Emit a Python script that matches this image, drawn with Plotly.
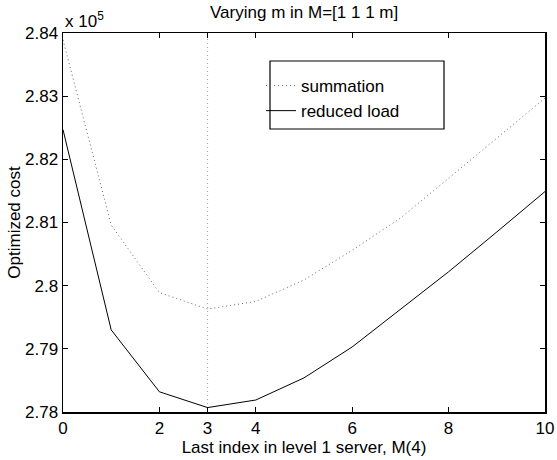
import plotly.graph_objects as go

x_vals = [0, 1, 2, 3, 4, 5, 6, 7, 8, 9, 10]
summation = [283890, 280960, 279890, 279630, 279750, 280090, 280560, 281070, 281700, 282330, 282970]
reduced_load = [282470, 279300, 278320, 278070, 278190, 278540, 279030, 279620, 280220, 280850, 281490]
marker_x = [3, 3]
marker_y = [278000, 284000]

x_ticks = [0, 2, 3, 4, 6, 8, 10]
y_ticks = [278000, 279000, 280000, 281000, 282000, 283000, 284000]
y_ticktext = ["2.78", "2.79", "2.8", "2.81", "2.82", "2.83", "2.84"]

FONT = "Liberation Sans, Arial, Helvetica, sans-serif"
FS = 17

fig = go.Figure()
fig.add_trace(go.Scatter(x=marker_x, y=marker_y, mode="lines",
                         line=dict(color="#a0a0a0", width=1, dash="1px,3px"),
                         showlegend=False, hoverinfo="skip"))
fig.add_trace(go.Scatter(x=x_vals, y=summation, mode="lines", name="summation",
                         line=dict(color="#666666", width=1, dash="1px,3px")))
fig.add_trace(go.Scatter(x=x_vals, y=reduced_load, mode="lines", name="reduced load",
                         line=dict(color="black", width=1)))

axis_common = dict(showgrid=False, zeroline=False, showline=True, linecolor="black",
                   linewidth=1.5, mirror="allticks", ticks="inside", ticklen=5,
                   tickcolor="black", tickwidth=1, automargin=False,
                   tickfont=dict(family=FONT, size=FS, color="black"))

fig.update_xaxes(range=[0, 10], tickvals=x_ticks, ticktext=[str(v) for v in x_ticks],
                 title=dict(text="Last index in level 1 server, M(4)",
                            font=dict(family=FONT, size=FS, color="black"), standoff=0),
                 **axis_common)
fig.update_yaxes(range=[278000, 284000], tickvals=y_ticks, ticktext=y_ticktext,
                 title=dict(text="Optimized cost",
                            font=dict(family=FONT, size=FS, color="black"), standoff=0),
                 **axis_common)

fig.update_layout(
    width=557, height=460,
    margin=dict(l=63, r=12, t=33, b=48),
    paper_bgcolor="white", plot_bgcolor="white",
    font=dict(family=FONT, size=FS, color="black"),
    title=dict(text="Varying m in M=[1 1 1 m]", x=0.546, xanchor="center",
               y=0.974, yanchor="middle", font=dict(family=FONT, size=FS, color="black")),
    legend=dict(x=0.4108, y=0.9077, xanchor="left", yanchor="top",
                bgcolor="rgba(0,0,0,0)", borderwidth=0,
                font=dict(family=FONT, size=FS, color="black"),
                tracegroupgap=0, itemwidth=30),
    shapes=[dict(type="rect", xref="paper", yref="paper",
                 x0=(270 - 63) / 482, x1=(444 - 63) / 482,
                 y0=(412 - 129) / 379, y1=(412 - 61) / 379,
                 line=dict(color="black", width=1.2), fillcolor="white", layer="below")],
    annotations=[dict(text="x 10<sup>5</sup>", xref="paper", yref="paper", x=0, y=1,
                      xanchor="left", yanchor="bottom", showarrow=False,
                      font=dict(family=FONT, size=FS, color="black"))],
    showlegend=True,
)

fig.write_html("out.html",
               config={"displayModeBar": False, "staticPlot": True},
               post_script="document.body.style.margin='0';document.body.style.overflow='hidden';")
